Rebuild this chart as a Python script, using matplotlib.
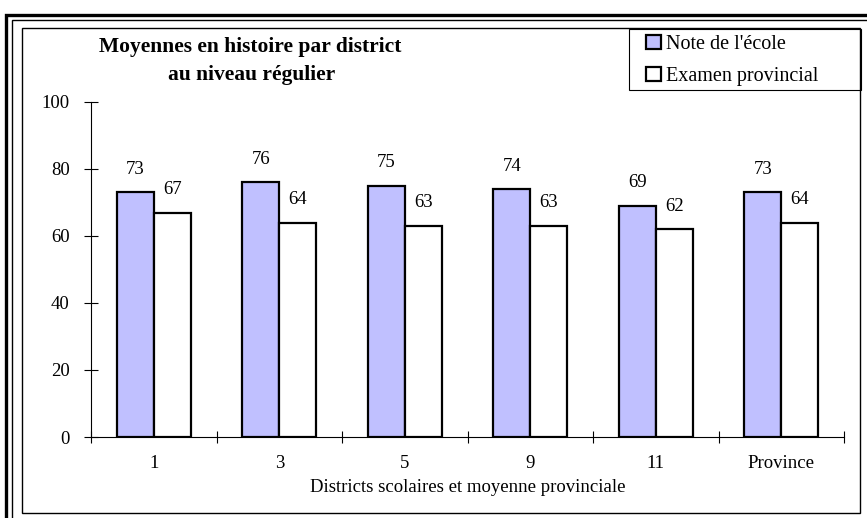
import matplotlib.pyplot as plt
from matplotlib.patches import Rectangle, Patch
import numpy as np

# Donnees du graphique
districts = ['1', '3', '5', '9', '11', 'Province']
note_ecole = [73, 76, 75, 74, 69, 73]
examen_prov = [67, 64, 63, 63, 62, 64]
serie_labels = ["Note de l'école", 'Examen provincial']
yticks = [0, 20, 40, 60, 80, 100]

plt.rcParams['font.family'] = ['Liberation Serif', 'DejaVu Serif']

fig = plt.figure(figsize=(8.67, 5.18), dpi=100)
W, H = 867.0, 518.0

# Cadres (double bordure + cadre du graphique + legende), en pixels
def rect_px(x0, y0, x1, y1, lw):
    fig.patches.append(Rectangle((x0 / W, 1 - y1 / H), (x1 - x0) / W, (y1 - y0) / H,
                                 transform=fig.transFigure, fill=False,
                                 edgecolor='black', linewidth=lw, clip_on=False))

rect_px(6, 15, 880, 540, 2.4)
rect_px(11.5, 20, 875, 535, 1.0)
rect_px(22, 28, 860, 513, 1.0)
rect_px(629, 29, 861, 90, 0.8)

ax = fig.add_axes([91 / W, 1 - 437 / H, (844 - 91) / W, (437 - 102) / H])

x = np.arange(len(districts))
w = 0.295
b1 = ax.bar(x - w, note_ecole, w, align='edge', color='#C0C0FF',
            edgecolor='black', linewidth=1.6)
b2 = ax.bar(x, examen_prov, w, align='edge', color='white',
            edgecolor='black', linewidth=1.6)

for bars, vals in ((b1, note_ecole), (b2, examen_prov)):
    for r, v in zip(bars, vals):
        ax.annotate(str(v), (r.get_x() + r.get_width() / 2, v),
                    xytext=(0, 10.5), textcoords='offset points',
                    ha='center', va='bottom', fontsize=13.5)

ax.set_xlim(-0.5, len(districts) - 0.5)
ax.set_ylim(0, 100)
ax.set_yticks(yticks)
ax.set_yticklabels([str(t) for t in yticks], fontsize=13.5)
ax.set_xticks(np.arange(-0.5, len(districts), 1.0))
ax.set_xticklabels([])
ax.set_xticks(x, minor=True)
ax.set_xticklabels(districts, minor=True, fontsize=13.5)
ax.tick_params(axis='y', direction='inout', length=10.5, width=0.8, pad=10)
ax.tick_params(axis='x', which='major', direction='inout', length=9, width=0.8)
ax.tick_params(axis='x', which='minor', length=0, pad=13)
for s in ('top', 'right'):
    ax.spines[s].set_visible(False)
ax.spines['left'].set_linewidth(0.8)
ax.spines['bottom'].set_linewidth(0.8)
ax.set_xlabel('Districts scolaires et moyenne provinciale', fontsize=13.5, labelpad=5)

fig.text(250 / W, 1 - 47 / H, 'Moyennes en histoire par district',
         ha='center', va='center', fontsize=15.5, fontweight='bold')
fig.text(252 / W, 1 - 75 / H, 'au niveau régulier',
         ha='center', va='center', fontsize=15.5, fontweight='bold')

handles = [Patch(facecolor='#C0C0FF', edgecolor='black', linewidth=1.6),
           Patch(facecolor='white', edgecolor='black', linewidth=1.6)]
leg = fig.legend(handles, serie_labels, loc='upper left',
                 bbox_to_anchor=(646 / W, 1 - 35 / H), frameon=False,
                 fontsize=14.5, handlelength=0.75, handleheight=0.7, handletextpad=0.25,
                 labelspacing=0.65, borderpad=0, borderaxespad=0)

fig.savefig('out.png', dpi=100)
